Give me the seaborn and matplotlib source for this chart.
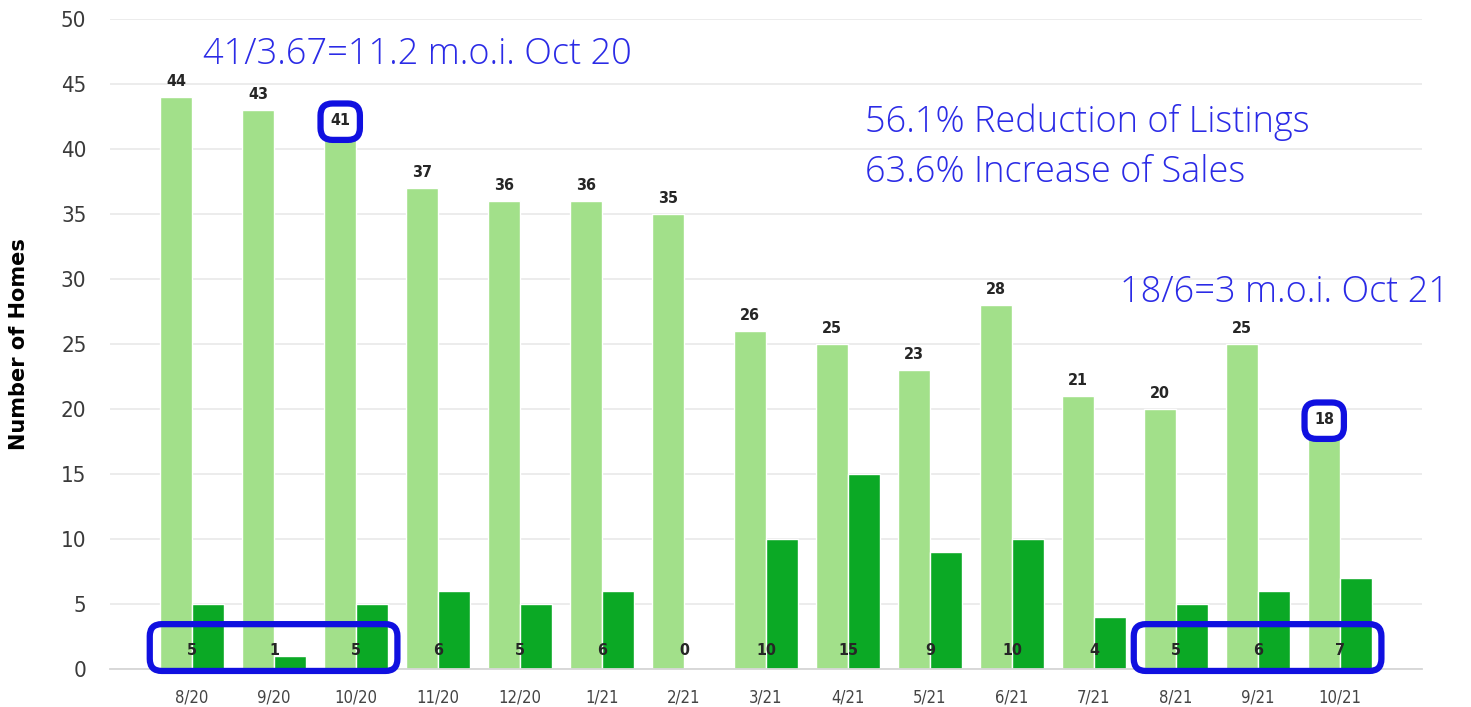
import numpy as np
import pandas as pd
import matplotlib
matplotlib.use("Agg")
import matplotlib.pyplot as plt
from matplotlib.patches import FancyBboxPatch
import seaborn as sns

# ---------------------------------------------------------------------------
# Data
# ---------------------------------------------------------------------------
months = ["8/20", "9/20", "10/20", "11/20", "12/20", "1/21", "2/21", "3/21",
          "4/21", "5/21", "6/21", "7/21", "8/21", "9/21", "10/21"]
listings = [44, 43, 41, 37, 36, 36, 35, 26, 25, 23, 28, 21, 20, 25, 18]
sales = [5, 1, 5, 6, 5, 6, 0, 10, 15, 9, 10, 4, 5, 6, 7]

y_ticks = [0, 5, 10, 15, 20, 25, 30, 35, 40, 45, 50]

notes = ["41/3.67=11.2 m.o.i. Oct 20",
         "56.1% Reduction of Listings",
         "63.6% Increase of Sales",
         "18/6=3 m.o.i. Oct 21"]

LIGHT = "#a2e08a"
DARK = "#0ba925"
BLUE = "#1010e0"
NOTE_BLUE = "#2b2be6"

df = pd.DataFrame({
    "month": months * 2,
    "count": listings + sales,
    "series": ["Listings"] * len(months) + ["Sales"] * len(months),
})

# ---------------------------------------------------------------------------
# Plot
# ---------------------------------------------------------------------------
sns.set_style("white")
plt.rcParams["font.family"] = ["DejaVu Sans"]

fig = plt.figure(figsize=(14.71, 7.07), dpi=100)
ax = fig.add_axes([110 / 1471, 38 / 707, 1312 / 1471, 650 / 707])

sns.barplot(data=df, x="month", y="count", hue="series",
            palette=[LIGHT, DARK], width=0.77, saturation=1,
            legend=False, ax=ax, zorder=2)

ax.set_xlim(-1, len(months))
ax.set_ylim(0, 50)
ax.set_yticks(y_ticks)
ax.yaxis.grid(True, color="#ebebeb", linewidth=1.3, zorder=0)
ax.set_axisbelow(True)

for side in ["top", "right", "left"]:
    ax.spines[side].set_visible(False)
ax.spines["bottom"].set_color("#d6d6d6")
ax.spines["bottom"].set_linewidth(1.3)

ax.tick_params(axis="y", length=0, pad=17, labelsize=16, labelcolor="#3a3a3a")
ax.tick_params(axis="x", length=6, width=1, color="#d6d6d6", pad=8,
               labelsize=12, labelcolor="#444444")
for lab in ax.get_yticklabels() + ax.get_xticklabels():
    lab.set_fontstretch("condensed")

ax.set_xlabel("")
ax.set_ylabel("Number of Homes", fontsize=15, fontweight="bold", color="black")
ax.yaxis.set_label_coords(-0.062, 0.5)

# value labels
light_bars = ax.containers[0]
ax.bar_label(light_bars, labels=[str(v) for v in listings], padding=6,
             fontsize=11.5, fontweight="bold", fontstretch="condensed", zorder=5)
for i, v in enumerate(sales):
    ax.text(i, 1.4, str(v), ha="center", va="center", fontsize=11.5,
            fontweight="bold", fontstretch="condensed", zorder=5)

# rounded highlight boxes
fig.canvas.draw()
px_x = ax.transData.transform((1, 0))[0] - ax.transData.transform((0, 0))[0]
px_y = ax.transData.transform((0, 1))[1] - ax.transData.transform((0, 0))[1]
aspect = px_x / px_y


def rbox(x0, y0, x1, y1, face="none"):
    r = 12 / px_x
    p = FancyBboxPatch((x0, y0), x1 - x0, y1 - y0,
                       boxstyle=f"round,pad=0,rounding_size={r}",
                       mutation_aspect=aspect, linewidth=4.5,
                       edgecolor=BLUE, facecolor=face, zorder=4,
                       clip_on=False)
    ax.add_patch(p)


bars = list(light_bars)
w = bars[0].get_width()
# single labels (Oct 20 and Oct 21 listings)
for idx in [2, 14]:
    cx = bars[idx].get_x() + w / 2
    rbox(cx - 0.24, listings[idx] - 0.3, cx + 0.24, listings[idx] + 2.5, face="white")

# bottom sales groups
dark_bars = list(ax.containers[1])
for a, b in [(0, 2), (12, 14)]:
    x0 = bars[a].get_x() - 0.13
    x1 = dark_bars[b].get_x() + dark_bars[b].get_width() + 0.12
    rbox(x0, -0.15, x1, 3.45)

# hand-written style notes
note_font = dict(color=NOTE_BLUE, fontsize=26, family=["Open Sans", "DejaVu Sans"],
                 fontweight="light", va="center", ha="left")
fig.text(203 / 1471, 1 - 55 / 707, notes[0], **note_font)
fig.text(865 / 1471, 1 - 122 / 707, notes[1], **note_font)
fig.text(865 / 1471, 1 - 172 / 707, notes[2], **note_font)
fig.text(1120 / 1471, 1 - 293 / 707, notes[3], **note_font)

fig.savefig("out.png", dpi=100)
